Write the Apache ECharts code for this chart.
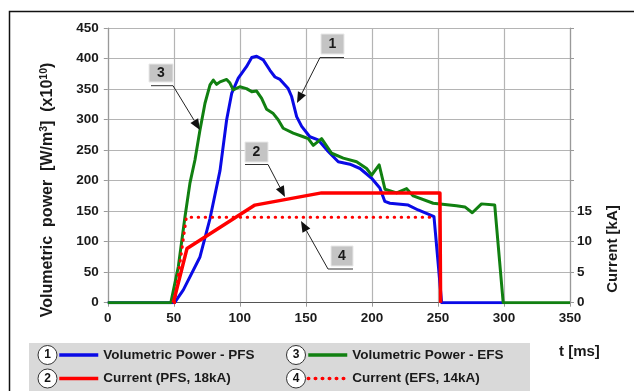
<!DOCTYPE html>
<html>
<head>
<meta charset="utf-8">
<script src="https://cdn.jsdelivr.net/npm/echarts@6/dist/echarts.min.js"></script>
<style>
  html, body { margin: 0; padding: 0; background: #fff; }
  #chart { width: 634px; height: 391px; }
</style>
</head>
<body>
<div id="chart"></div>
<script>
// t [ms] / value pairs
var powerPFS = [
  [0, 0], [50.6, 0], [57.2, 21], [69.8, 75], [77.4, 138], [85, 217], [90, 300],
  [93.8, 343], [98.8, 368], [105, 387], [109, 402], [112.7, 404], [117.7, 398],
  [122.8, 381], [126.6, 370], [130.4, 366], [136.6, 351], [139.2, 338], [143, 305],
  [146.8, 289], [153, 272], [159.3, 267], [166.9, 248], [174.5, 231], [183.3, 227],
  [191, 220], [199.8, 204], [206, 188], [209.8, 166], [213.6, 163], [227.5, 160],
  [235, 152], [244, 144], [247, 141], [252.8, 0], [299.5, 0]
];
var powerEFS = [
  [0, 0], [47.7, 0], [53.4, 59], [58.4, 140], [62.2, 196], [66, 234], [69.8, 283],
  [73.6, 327], [77.4, 357], [79.9, 365], [82.4, 358], [85, 362], [90, 366],
  [92.5, 360], [95, 349], [100, 354], [105, 351], [109, 346], [112.7, 347],
  [116.5, 335], [120.3, 317], [125.3, 310], [129, 300], [132.8, 286], [140.4, 278],
  [148, 272], [151.8, 269], [155.6, 258], [161.9, 269], [169.5, 245], [178.3, 237],
  [188.4, 231], [196, 220], [199.8, 209], [205.5, 226], [209.9, 186], [218.7, 180],
  [226.3, 187], [231.3, 175], [246.4, 163], [264, 159], [270.4, 157], [276, 147.5],
  [283, 162], [293, 160], [299.4, 0], [350, 0]
];
var currentPFS = [[49.6, 0], [60, 8.9], [111.4, 16], [161.9, 18], [251.5, 18], [252, 0]];
var currentEFS = [[50.5, 0], [59.5, 14], [246.5, 14]];

var xTicks = { min: 0, max: 350, step: 50 };
var leftTicks = { min: 0, max: 450, step: 50 };
var rightTicks = { min: 0, max: 45, step: 5, lastLabel: 15 };

var names = ['Volumetric Power - PFS', 'Current (PFS, 18kA)', 'Volumetric Power - EFS', 'Current (EFS, 14kA)'];

var FONT = 'Liberation Sans, Arial, sans-serif';
var labelStyle = { color: '#1a1a1a', fontWeight: 'bold', fontSize: 13.5, fontFamily: FONT };

// small callout: gray box with number, underline and an arrow to the curve
function callout(num, bx, by, bw, bh, lx0, lx1, ly, tx, ty) {
  var dx = tx - lx0, dy = ty - ly, len = Math.sqrt(dx * dx + dy * dy);
  var ux = dx / len, uy = dy / len, ah = 11, aw = 4.5;
  var baseX = tx - ux * ah, baseY = ty - uy * ah;
  return [
    { type: 'rect', shape: { x: bx, y: by, width: bw, height: bh },
      style: { fill: '#c4c4c4', stroke: '#e8e8e8', lineWidth: 1 }, z: 100 },
    { type: 'text', x: bx + bw / 2, y: by + bh / 2,
      style: { text: num, fill: '#1a1a1a', font: 'bold 14px ' + FONT, align: 'center', verticalAlign: 'middle' }, z: 101 },
    { type: 'line', shape: { x1: lx0, y1: ly, x2: lx1, y2: ly },
      style: { stroke: '#333', lineWidth: 1 }, z: 100 },
    { type: 'line', shape: { x1: lx0, y1: ly, x2: baseX, y2: baseY },
      style: { stroke: '#222', lineWidth: 1 }, z: 100 },
    { type: 'polygon', shape: { points: [[tx, ty], [baseX - uy * aw, baseY + ux * aw], [baseX + uy * aw, baseY - ux * aw]] },
      style: { fill: '#111' }, z: 100 }
  ];
}

function legendMark(num, cx, cy) {
  return [
    { type: 'circle', shape: { cx: cx, cy: cy, r: 9.5 },
      style: { fill: '#fff', stroke: '#333', lineWidth: 1 }, z: 50 },
    { type: 'text', x: cx, y: cy,
      style: { text: num, fill: '#111', font: 'bold 12px ' + FONT, align: 'center', verticalAlign: 'middle' }, z: 51 }
  ];
}

var graphics = [
  { type: 'rect', shape: { x: 9.5, y: 11.5, width: 700, height: 500 },
    style: { fill: null, stroke: '#111', lineWidth: 1.5 }, z: -10, silent: true },
  { type: 'rect', shape: { x: 29, y: 343, width: 501, height: 60 },
    style: { fill: '#d9d9d9' }, z: -5 },
  { type: 'text', x: 48, y: 190, rotation: Math.PI / 2,
    style: {
      text: '{a|Volumetric  power  [W/m}{s|3}{a|]  (x10}{s|10}{a|)}',
      align: 'center', verticalAlign: 'middle',
      rich: {
        a: { font: 'bold 16px ' + FONT, fill: '#1a1a1a' },
        s: { font: 'bold 10.5px ' + FONT, fill: '#1a1a1a', padding: [0, 0, 7, 0] }
      }
    } },
  { type: 'text', x: 613, y: 249, rotation: Math.PI / 2,
    style: { text: 'Current [kA]', font: 'bold 15px ' + FONT, fill: '#1a1a1a', align: 'center', verticalAlign: 'middle' } },
  { type: 'text', x: 559, y: 352,
    style: { text: 't [ms]', font: 'bold 15px ' + FONT, fill: '#1a1a1a', align: 'left', verticalAlign: 'middle' } }
]
  .concat(legendMark('1', 47.5, 355))
  .concat(legendMark('2', 47.5, 378.5))
  .concat(legendMark('3', 296, 355))
  .concat(legendMark('4', 296, 378.5))
  .concat(callout('1', 321, 34, 23, 20, 320, 344, 57.5, 297, 103))
  .concat(callout('3', 149, 64, 24, 18, 173, 151, 85.7, 200, 130))
  .concat(callout('2', 245, 142, 23, 20, 268, 245, 164.5, 285, 197))
  .concat(callout('4', 331, 246, 22, 20, 328, 353, 269, 301, 221));

// legend icons: just the series line, no marker
var legendItem = { color: 'transparent', borderColor: 'transparent', borderWidth: 0 };
var legendLine = { width: 3.5 };

var option = {
  animation: false,
  backgroundColor: '#fff',
  grid: { left: 107.8, right: 64, top: 28.2, bottom: 88.3, containLabel: false },
  xAxis: {
    type: 'value', min: xTicks.min, max: xTicks.max, interval: xTicks.step,
    axisLine: { show: true, onZero: false, lineStyle: { color: '#555', width: 1.2 } },
    axisTick: { show: true, inside: false, length: 4, lineStyle: { color: '#999' } },
    axisLabel: Object.assign({ margin: 9 }, labelStyle),
    splitLine: { show: true, lineStyle: { color: '#b4b4b4', width: 1.2 } }
  },
  yAxis: [
    {
      type: 'value', min: leftTicks.min, max: leftTicks.max, interval: leftTicks.step,
      axisLine: { show: true, lineStyle: { color: '#999', width: 1.2 } },
      axisTick: { show: true, length: 4, lineStyle: { color: '#999' } },
      axisLabel: Object.assign({ margin: 9 }, labelStyle),
      splitLine: { show: true, lineStyle: { color: '#b4b4b4', width: 1.2 } }
    },
    {
      type: 'value', min: rightTicks.min, max: rightTicks.max, interval: rightTicks.step,
      axisLine: { show: true, lineStyle: { color: '#999', width: 1.2 } },
      axisTick: { show: true, length: 4, lineStyle: { color: '#999' } },
      axisLabel: Object.assign({
        margin: 7,
        formatter: function (v) { return v <= rightTicks.lastLabel ? String(v) : ''; }
      }, labelStyle),
      splitLine: { show: false }
    }
  ],
  legend: [
    {
      left: 57.5, top: 348, orient: 'vertical', padding: 0, itemGap: 9.5,
      itemWidth: 39, itemHeight: 14,
      itemStyle: legendItem, lineStyle: legendLine,
      textStyle: labelStyle,
      data: [names[0], names[1]]
    },
    {
      left: 306.5, top: 348, orient: 'vertical', padding: 0, itemGap: 9.5,
      itemWidth: 39, itemHeight: 14,
      itemStyle: legendItem, lineStyle: legendLine,
      textStyle: labelStyle,
      data: [names[2], names[3]]
    }
  ],
  graphic: graphics,
  series: [
    {
      name: names[0], type: 'line', data: powerPFS, yAxisIndex: 0,
      symbol: 'none', color: '#0a0ae6',
      lineStyle: { width: 3, color: '#0a0ae6', join: 'round' }
    },
    {
      name: names[2], type: 'line', data: powerEFS, yAxisIndex: 0,
      symbol: 'none', color: '#118011',
      lineStyle: { width: 3, color: '#118011', join: 'round' }
    },
    {
      name: names[1], type: 'line', data: currentPFS, yAxisIndex: 1,
      symbol: 'none', color: '#ff0000',
      lineStyle: { width: 3.5, color: '#ff0000', join: 'round' }
    },
    {
      name: names[3], type: 'line', data: currentEFS, yAxisIndex: 1,
      symbol: 'none', color: '#ff0000',
      lineStyle: { width: 3, color: '#ff0000', type: [0.5, 6.5], cap: 'round' }
    }
  ]
};

var myChart = echarts.init(document.getElementById('chart'));
myChart.setOption(option);
window.addEventListener('resize', function () { myChart.resize(); });
</script>
</body>
</html>
